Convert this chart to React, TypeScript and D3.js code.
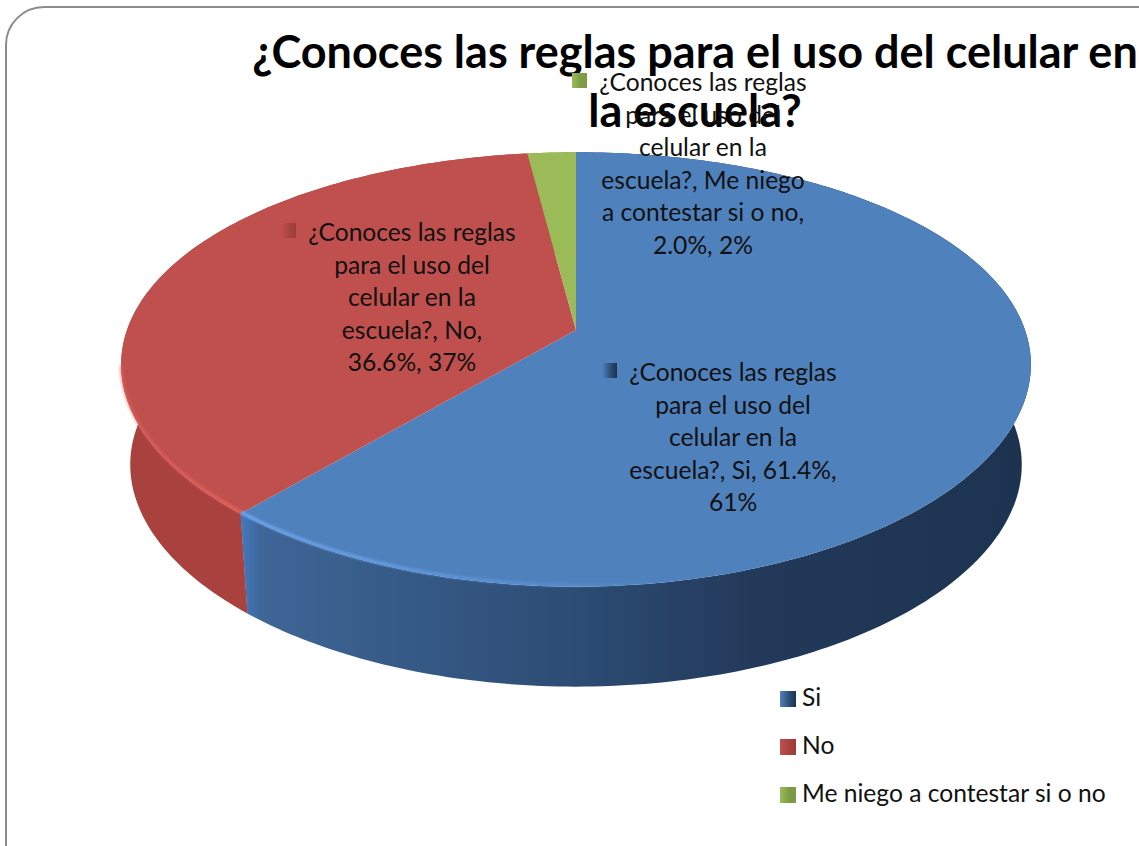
import React from 'react'
import * as d3 from 'd3'

const categories = ['Si', 'No', 'Me niego a contestar si o no']
const percents = [61.4, 36.6, 2.0]
const rounded = ['61%', '37%', '2%']
const question = '¿Conoces las reglas para el uso del celular en la escuela?'
const titleLines = ['¿Conoces las reglas para el uso del celular en', 'la escuela?']
const labelLines = [
  ['¿Conoces las reglas', 'para el uso del', 'celular en la', 'escuela?, Si, 61.4%,', '61%'],
  ['¿Conoces las reglas', 'para el uso del', 'celular en la', 'escuela?, No,', '36.6%, 37%'],
  ['¿Conoces las reglas', 'para el uso del', 'celular en la', 'escuela?, Me niego', 'a contestar si o no,', '2.0%, 2%']
]
const topColors = ['#4f81bd', '#c0504d', '#9bbb59']
const wallStops = [
  ['#3f6798', '#2c4c74', '#23395a', '#1c3350'],
  ['#a9413f', '#a64340', '#a64340', '#9f3b38'],
  ['#7d9a45', '#7d9a45', '#7d9a45', '#7d9a45']
]
const rimColors = ['#6ba3ec', '#e2605b', '#b7d86c']
const labelAnchors = [[733, 372], [412, 232], [703, 82]]

const FONT = 'Lato, "Open Sans", sans-serif'
const apex = { x: 576, y: 330 }
const spanX = 449
const spanY = 210
const tiltX = 0.16
const tiltY = 0.1817 // how much closer the front edge looks
const depth = 100
const lowerScale = 0.98

// circle on the table -> screen, with a bit of perspective
function project (angle: number): [number, number] {
  const u = Math.sin(angle)
  const v = -Math.cos(angle)
  return [apex.x + spanX * u / (1 - tiltX * v), apex.y + spanY * v / (1 - tiltY * v)]
}

function samples (a0: number, a1: number) {
  const n = Math.max(2, Math.ceil(Math.abs(a1 - a0) * 60))
  const step = d3.scaleLinear().domain([0, n]).range([a0, a1])
  return d3.range(n + 1).map((i) => step(i))
}

const line = d3.line()

export default function App () {
  const slices = d3.pie<number>().sort(null)(percents)

  const rim = slices.map((s) => samples(s.startAngle, s.endAngle).map((a) => project(a)))
  const walls = rim.map((pts) => {
    const lower = pts.map(([x, y]) => [apex.x + (x - apex.x) * lowerScale, y + depth] as [number, number]).reverse()
    return line([...pts, ...lower]) + 'Z'
  })
  const tops = rim.map((pts) => line([[apex.x, apex.y], ...pts]) + 'Z')
  // the light bevel only runs along the front of the disc
  const bevels = rim.slice(0, 2).map((pts) => pts.filter((p) => p[1] > 365).map(([x, y]) => [x, y - 1.5] as [number, number]))

  return (
    <svg width={1139} height={846} style={{ position: 'absolute', left: 0, top: 0, background: '#fff' }}>
      <defs>
        {wallStops.map((stops, i) => (
          <linearGradient key={i} id={'wall' + i} gradientUnits='userSpaceOnUse' x1={245} x2={1031} y1={0} y2={0}>
            <stop offset='0' stopColor={stops[0]} />
            <stop offset='0.42' stopColor={stops[1]} />
            <stop offset='0.65' stopColor={stops[2]} />
            <stop offset='1' stopColor={stops[3]} />
          </linearGradient>
        ))}
        <linearGradient id='rim0' gradientUnits='userSpaceOnUse' x1={245} x2={680} y1={0} y2={0}>
          <stop offset='0' stopColor={rimColors[0]} stopOpacity={1} />
          <stop offset='1' stopColor={rimColors[0]} stopOpacity={0} />
        </linearGradient>
        <linearGradient id='rim1' gradientUnits='userSpaceOnUse' x1={120} x2={245} y1={0} y2={0}>
          <stop offset='0' stopColor={rimColors[1]} stopOpacity={0.5} />
          <stop offset='1' stopColor={rimColors[1]} stopOpacity={1} />
        </linearGradient>
        <linearGradient id='seam' gradientUnits='userSpaceOnUse' x1={243} x2={262} y1={0} y2={0}>
          <stop offset='0' stopColor='#4379bd' stopOpacity={0.9} />
          <stop offset='1' stopColor='#4379bd' stopOpacity={0} />
        </linearGradient>
        {topColors.map((c, i) => (
          <linearGradient key={c} id={'mark' + i} x1={0} x2={1} y1={0} y2={0}>
            <stop offset='0' stopColor={c} />
            <stop offset='0.6' stopColor={wallStops[i][1]} />
            <stop offset='1' stopColor={wallStops[i][3]} />
          </linearGradient>
        ))}
        <filter id='soft' x='-5%' y='-5%' width='110%' height='110%'>
          <feGaussianBlur stdDeviation='1.3' />
        </filter>
      </defs>

      <rect x={6} y={7} width={1190} height={900} rx={38} fill='#fff' stroke='#8c8c8c' strokeWidth={2} />

      <g>
        {walls.map((d, i) => <path key={i} d={d} fill={'url(#wall' + i + ')'} />)}
        <path d={walls[0]} fill='url(#seam)' />
        {tops.map((d, i) => <path key={i} d={d} fill={topColors[i]} />)}
        {bevels.map((pts, i) => (
          <path key={i} d={line(pts) || ''} fill='none' stroke={'url(#rim' + i + ')'} strokeWidth={3.5} filter='url(#soft)' />
        ))}
      </g>

      <g fontFamily={FONT} fontWeight={700} fontSize={45} textAnchor='middle' fill='#000'>
        {titleLines.map((t, i) => <text key={i} x={695} y={68 + i * 59}>{t}</text>)}
      </g>

      <g fontFamily={FONT} fontSize={24.6} textAnchor='middle' fill='#111'>
        {labelLines.map((lines, i) => (
          <g key={i}>
            <rect x={labelAnchors[i][0] - 131} y={labelAnchors[i][1] - 9} width={15} height={15} fill={'url(#mark' + i + ')'} />
            {lines.map((t, j) => <text key={j} x={labelAnchors[i][0]} y={labelAnchors[i][1] + 9 + j * 32.6}>{t}</text>)}
          </g>
        ))}
      </g>

      <g fontFamily={FONT} fontSize={24.6} fill='#111'>
        {categories.map((c, i) => (
          <g key={c} transform={`translate(780,${691 + i * 48})`}>
            <title>{question + ' ' + c + ' ' + percents[i] + '% (' + rounded[i] + ')'}</title>
            <rect width={16} height={16} fill={'url(#mark' + i + ')'} />
            <text x={22} y={15}>{c}</text>
          </g>
        ))}
      </g>
    </svg>
  )
}
